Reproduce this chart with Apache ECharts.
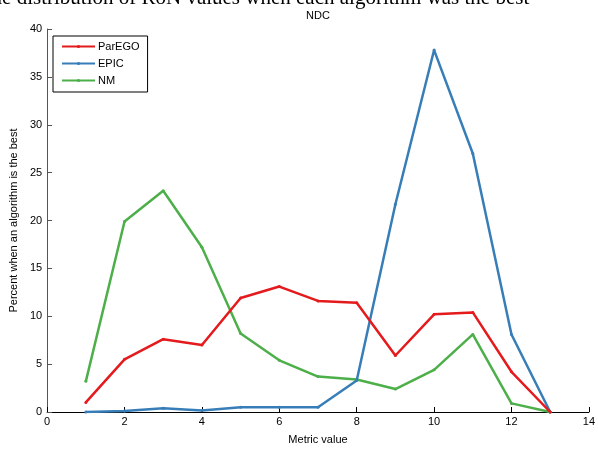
<!DOCTYPE html>
<html>
<head>
<meta charset="utf-8">
<script src="https://cdn.jsdelivr.net/npm/echarts@6/dist/echarts.min.js"></script>
<style>
  html, body { margin: 0; padding: 0; background: #fff; }
  #chart { width: 598px; height: 450px; }
</style>
</head>
<body>
<div id="chart"></div>
<script>
// metric values on the x axis
const metricValues = [1, 2, 3, 4, 5, 6, 7, 8, 9, 10, 11, 12, 13];

// percent when each algorithm is the best
const parego = [1.0, 5.5, 7.6, 7.0, 11.9, 13.1, 11.6, 11.4, 5.9, 10.2, 10.4, 4.2, 0];
const epic   = [0, 0.1, 0.4, 0.15, 0.5, 0.5, 0.5, 3.3, 21.7, 37.8, 27.0, 8.1, 0];
const nm     = [3.2, 19.9, 23.1, 17.2, 8.2, 5.4, 3.7, 3.4, 2.4, 4.4, 8.1, 0.9, 0];

const seriesNames = ['ParEGO', 'EPIC', 'NM'];
const seriesColors = ['#e41a1c', '#377eb8', '#4daf4a'];

const pairs = vals => metricValues.map((x, i) => [x, vals[i]]);

const chart = echarts.init(document.getElementById('chart'));
const font = 'Liberation Sans, Arial, sans-serif';

const option = {
    animation: false,
    backgroundColor: '#fff',
    graphic: [
        {
            // big figure title, clipped by the top/left page edge as in the original
            type: 'text',
            x: 254, y: 9,
            style: {
                text: 'The distribution of RoN values when each algorithm was the best',
                font: '21px "Liberation Serif", "Times New Roman", serif',
                fill: '#000',
                align: 'center',
                verticalAlign: 'bottom'
            }
        },
        {
            type: 'text',
            x: 318, y: 16,
            style: {
                text: 'NDC',
                font: '11px ' + font,
                fill: '#000',
                align: 'center',
                verticalAlign: 'middle'
            }
        }
    ],
    legend: {
        left: 53,
        top: 36,
        orient: 'vertical',
        itemWidth: 33,
        itemHeight: 4,
        itemGap: 6,
        padding: [5, 8, 6, 8],
        borderColor: '#000',
        borderWidth: 1,
        backgroundColor: '#fff',
        textStyle: { fontFamily: font, fontSize: 11, color: '#000', padding: [0, 0, 0, -2] },
        data: seriesNames
    },
    grid: { left: 44, right: 5, top: 29, bottom: 34, containLabel: false },
    xAxis: {
        type: 'value',
        min: 0, max: 14, interval: 2,
        name: 'Metric value',
        nameLocation: 'middle',
        nameGap: 22,
        nameTextStyle: { fontFamily: font, fontSize: 11, color: '#000' },
        axisLine: { lineStyle: { color: '#000', width: 1 } },
        axisTick: { inside: true, length: 5, lineStyle: { color: '#000' } },
        axisLabel: { fontFamily: font, fontSize: 11, color: '#000', margin: 4 },
        splitLine: { show: false }
    },
    yAxis: {
        type: 'value',
        min: 0, max: 40, interval: 5,
        name: 'Percent when an algorithm is the best',
        nameLocation: 'middle',
        nameGap: 25,
        nameTextStyle: { fontFamily: font, fontSize: 11, color: '#000' },
        axisLine: { show: true, lineStyle: { color: '#555', width: 1 } },
        axisTick: { show: true, inside: true, length: 5, lineStyle: { color: '#555' } },
        axisLabel: { fontFamily: font, fontSize: 11, color: '#000', margin: 5 },
        splitLine: { show: false }
    },
    series: [parego, epic, nm].map((vals, i) => ({
        name: seriesNames[i],
        type: 'line',
        data: pairs(vals),
        color: seriesColors[i],
        symbol: 'circle',
        symbolSize: 3,
        showSymbol: true,
        lineStyle: { width: 2.5, color: seriesColors[i] },
        itemStyle: { color: seriesColors[i] },
        z: 3 - i
    }))
};

chart.setOption(option);
</script>
</body>
</html>
